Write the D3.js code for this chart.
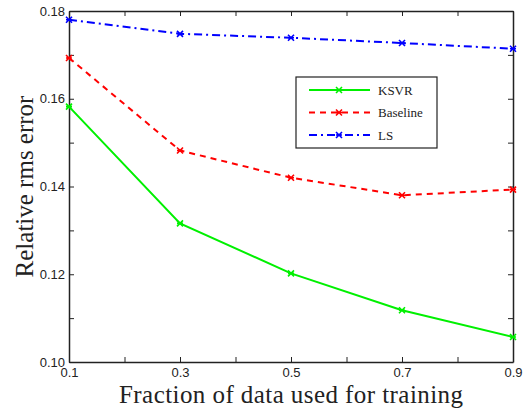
<!DOCTYPE html>
<html>
<head>
<meta charset="utf-8">
<script src="https://cdn.jsdelivr.net/npm/d3@7"></script>
<style>
  body { margin: 0; background: #fff; }
  .tick text { font-family: "Liberation Sans", Arial, sans-serif; font-size: 13px; fill: #222; }
  .domain, .tick line { stroke: #222; }
</style>
</head>
<body>
<div id="chart"></div>
<script>
// values
var fractions = [0.1, 0.3, 0.5, 0.7, 0.9];
var ksvr = [0.1582, 0.1316, 0.1202, 0.1118, 0.1057];
var baseline = [0.1693, 0.1482, 0.1420, 0.1380, 0.1393];
var ls = [0.1780, 0.1748, 0.1739, 0.1727, 0.1714];
var seriesNames = ["KSVR", "Baseline", "LS"];
var xTicks = [0.1, 0.2, 0.3, 0.4, 0.5, 0.6, 0.7, 0.8, 0.9];
var yTicks = [0.10, 0.11, 0.12, 0.13, 0.14, 0.15, 0.16, 0.17, 0.18];

var svgWidth = 525;
var svgHeight = 409;
var margin = { top: 11, right: 12, bottom: 47, left: 69 };
var chartWidth = svgWidth - margin.left - margin.right;
var chartHeight = svgHeight - margin.top - margin.bottom;

var svg = d3.select("#chart")
  .append("svg")
  .attr("width", svgWidth)
  .attr("height", svgHeight);

var chartGroup = svg.append("g")
  .attr("transform", `translate(${margin.left}, ${margin.top})`);

var xScale = d3.scaleLinear().domain([0.1, 0.9]).range([0, chartWidth]);
var yScale = d3.scaleLinear().domain([0.10, 0.18]).range([chartHeight, 0]);

var xFmt = d => (Math.round(d * 10) % 2 === 1 ? d3.format(".1f")(d) : "");
var yFmt = d => (Math.round(d * 100) % 2 === 0 ? d3.format(".2f")(d) : "");

// axes on all four sides, ticks pointing inward
var bottomAxis = d3.axisBottom(xScale).tickValues(xTicks).tickFormat(xFmt).tickSizeInner(-5).tickSizeOuter(0).tickPadding(6);
var leftAxis = d3.axisLeft(yScale).tickValues(yTicks).tickFormat(yFmt).tickSizeInner(-5).tickSizeOuter(0).tickPadding(4);
var topAxis = d3.axisTop(xScale).tickValues(xTicks).tickFormat("").tickSizeInner(-5).tickSizeOuter(0);
var rightAxis = d3.axisRight(yScale).tickValues(yTicks).tickFormat("").tickSizeInner(-5).tickSizeOuter(0);

chartGroup.append("g").attr("transform", `translate(0, ${chartHeight})`).call(bottomAxis);
chartGroup.append("g").call(leftAxis);
chartGroup.append("g").call(topAxis);
chartGroup.append("g").attr("transform", `translate(${chartWidth}, 0)`).call(rightAxis);
chartGroup.selectAll(".domain").attr("stroke-width", 1.5);
// drop the empty minor labels
chartGroup.selectAll(".tick text").filter(function() { return this.textContent === ""; }).remove();

var series = [
  { name: seriesNames[0], values: ksvr, color: "#00f000", dash: null },
  { name: seriesNames[1], values: baseline, color: "#ff0000", dash: "6,5" },
  { name: seriesNames[2], values: ls, color: "#0000ff", dash: "8,4,2,4" }
];

var line = d3.line()
  .x((d, i) => xScale(fractions[i]))
  .y(d => yScale(d));

function drawMarker(g, x, y, color) {
  var s = 3;
  g.append("path")
    .attr("d", `M${x - s},${y - s}L${x + s},${y + s}M${x - s},${y + s}L${x + s},${y - s}M${x - s},${y}L${x + s},${y}`)
    .attr("stroke", color)
    .attr("stroke-width", 1.6);
}

series.forEach(function(s) {
  chartGroup.append("path")
    .datum(s.values)
    .attr("d", line)
    .attr("fill", "none")
    .attr("stroke", s.color)
    .attr("stroke-width", 2)
    .attr("stroke-dasharray", s.dash);
  s.values.forEach(function(v, i) {
    drawMarker(chartGroup, xScale(fractions[i]), yScale(v), s.color);
  });
});

// legend
var legend = svg.append("g").attr("transform", "translate(296, 77)");
legend.append("rect")
  .attr("width", 141)
  .attr("height", 71)
  .attr("fill", "#fff")
  .attr("stroke", "#222")
  .attr("stroke-width", 1.2);

series.forEach(function(s, i) {
  var y = 13 + i * 22.5;
  legend.append("line")
    .attr("x1", 13).attr("x2", 74)
    .attr("y1", y).attr("y2", y)
    .attr("stroke", s.color)
    .attr("stroke-width", 2)
    .attr("stroke-dasharray", s.dash);
  drawMarker(legend, 43, y, s.color);
  legend.append("text")
    .attr("x", 82)
    .attr("y", y + 4.5)
    .attr("font-family", "Liberation Serif, Times New Roman, serif")
    .attr("font-size", "13px")
    .attr("fill", "#222")
    .text(s.name);
});

// axis titles
svg.append("text")
  .attr("transform", `translate(33, ${margin.top + chartHeight / 2}) rotate(-90)`)
  .attr("text-anchor", "middle")
  .attr("font-family", "Liberation Serif, Times New Roman, serif")
  .attr("font-size", "25px")
  .attr("fill", "#222")
  .text("Relative rms error");

svg.append("text")
  .attr("x", 291)
  .attr("y", 402.5)
  .attr("text-anchor", "middle")
  .attr("font-family", "Liberation Serif, Times New Roman, serif")
  .attr("font-size", "25px")
  .attr("textLength", 344)
  .attr("fill", "#222")
  .text("Fraction of data used for training");
</script>
</body>
</html>
